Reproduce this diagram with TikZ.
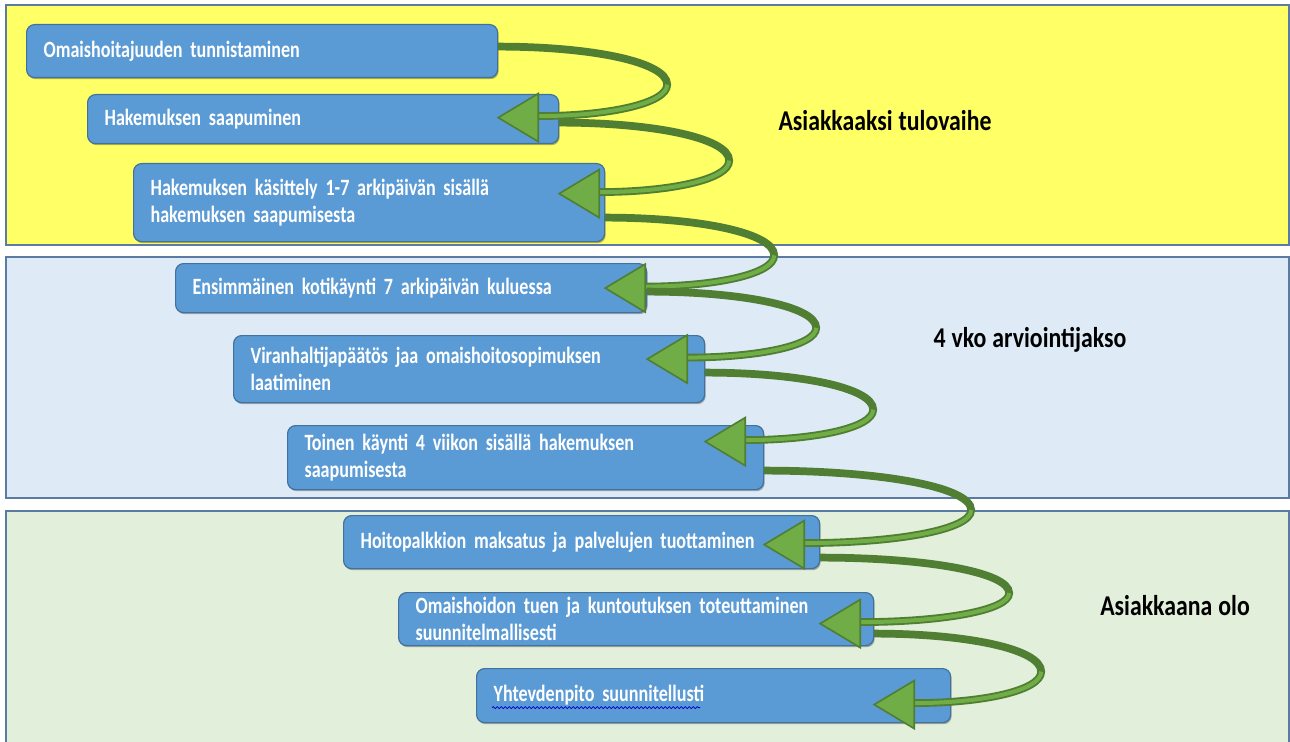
\documentclass[tikz,border=0pt]{standalone}
\usepackage{fontspec}
\setmainfont{Carlito}
\newfontfamily\boxfont[FakeStretch=0.775]{Carlito}
\newfontfamily\labfont[FakeStretch=0.83]{Carlito}
\newcommand\boxtextfont{\boxfont\bfseries\fontsize{17.5}{20.25}\selectfont\spaceskip 3pt plus 1pt minus 0.5pt\relax}
\newcommand\labtextfont{\labfont\bfseries\fontsize{21.5}{24}\selectfont\spaceskip 4.5pt plus 1pt minus 0.5pt\relax}
\usetikzlibrary{calc,decorations.pathmorphing,shadows}
\definecolor{yband}{HTML}{FFFF66}
\definecolor{bband}{HTML}{DEEBF7}
\definecolor{gband}{HTML}{E2EFDA}
\definecolor{bandline}{HTML}{5B7BA3}
\definecolor{boxfill}{HTML}{5B9BD5}
\definecolor{boxline}{HTML}{41719C}
\definecolor{glight}{HTML}{70AD47}
\definecolor{gdark}{HTML}{507E32}
\newcommand\garrow[5]{%
  \coordinate (gS) at ($(#1.east)+(0,#2)$);
  \coordinate (gY) at ($(#4.east)+(0,#5)$);
  \coordinate (gT) at (gS |- gY);
  \coordinate (gB) at ($($(gS)!0.5!(gT)$)+(#3,2.5)$);
  \coordinate (gE) at ($(gT)+(39,-1.5)$);
  \coordinate (gC1) at ($(gS)!0.55!(gS-|gB)$);
  \coordinate (gC2) at ($(gB)!0.6!(gB|-gS)$);
  \coordinate (gC3) at ($(gB)!0.6!(gB|-gE)$);
  \coordinate (gC4) at ($(gE)!0.55!(gE-|gB)$);
  \coordinate (gHt) at ($(gT)+(40,-24)$);
  \coordinate (gHb) at ($(gT)+(40,24)$);
  \draw[shaftdark] (gS) .. controls (gC1) and (gC2) .. (gB) .. controls (gC3) and (gC4) .. (gE);
  \draw[shaftlight] (gB) .. controls (gC3) and (gC4) .. (gE);
  \filldraw[headstyle] (gT) -- (gHt) -- (gHb) -- cycle;
}
\begin{document}
\begin{tikzpicture}[x=0.75pt,y=-0.75pt,
  band/.style={draw=bandline, line width=1pt},
  box/.style={rectangle, rounded corners=6pt, fill=boxfill, draw=boxline, line width=0.9pt,
    anchor=north west, inner xsep=12.75pt, inner ysep=2pt, align=left, text=white,
    font=\boxtextfont,
    drop shadow={shadow xshift=0.8pt, shadow yshift=-1.2pt, opacity=0.3, fill=black}},
  lab/.style={font=\labtextfont, text=black},
  shaftdark/.style={draw=gdark, line width=5.8pt, line cap=butt},
  shaftlight/.style={draw=glight, line width=3pt, line cap=butt},
  headstyle/.style={fill=glight, draw=gdark, line width=1.2pt, line join=miter}]
\useasboundingbox (0,0) rectangle (1290,742);
\fill[white] (0,0) rectangle (1290,742);
% bands
\path[band, fill=yband] (6,5) rectangle (1289,245);
\path[band, fill=bband] (6,257) rectangle (1289,498);
\path[band, fill=gband] (6,511) rectangle (1289,752);
% labels
\node[lab] (l1) at (885,121) {Asiakkaaksi tulovaihe};
\node[lab] (l2) at (1030,340) {4 vko arviointijakso};
\node[lab] (l3) at (1175,606) {Asiakkaana olo};
% boxes
\node[box, minimum width=353.25pt, text width=327.75pt, minimum height=39.75pt] (b1) at (26,24) {Omaishoitajuuden tunnistaminen};
\node[box, minimum width=353.25pt, text width=327.75pt, minimum height=36.75pt] (b2) at (87,94) {Hakemuksen saapuminen};
\node[box, minimum width=353.25pt, text width=327.75pt, minimum height=58.5pt] (b3) at (133,163) {Hakemuksen käsittely 1-7 arkipäivän sisällä\\hakemuksen saapumisesta};
\node[box, minimum width=353.25pt, text width=327.75pt, minimum height=36.75pt] (b4) at (175,263) {Ensimmäinen kotikäynti 7 arkipäivän kuluessa};
\node[box, minimum width=353.25pt, text width=327.75pt, minimum height=50.25pt] (b5) at (233,335) {Viranhaltijapäätös jaa omaishoitosopimuksen\\laatiminen};
\node[box, minimum width=357pt, text width=331.5pt, minimum height=48pt] (b6) at (287,425) {Toinen käynti 4 viikon sisällä hakemuksen\\saapumisesta};
\node[box, minimum width=357pt, text width=331.5pt, minimum height=39.75pt] (b7) at (343,515) {Hoitopalkkion maksatus ja palvelujen tuottaminen};
\node[box, minimum width=356.25pt, text width=330.75pt, minimum height=39.75pt] (b8) at (398,592) {Omaishoidon tuen ja kuntoutuksen toteuttaminen\\suunnitelmallisesti};
\node[box, minimum width=355.5pt, text width=330pt, minimum height=40.5pt] (b9) at (476,668) {Yhtevdenpito suunnitellusti};
\draw[blue!80!black, line width=0.6pt, decorate, decoration={snake, amplitude=0.7pt, segment length=3pt}]
  ($(b9.west)+(16,12)$) -- ++(208,0);
% arrows
\garrow{b1}{-4.5}{169}{b2}{-1.5}
\garrow{b2}{3.5}{170}{b3}{-9}
\garrow{b3}{15}{169}{b4}{0}
\garrow{b4}{3.5}{169}{b5}{-10}
\garrow{b5}{3.5}{168}{b6}{-16}
\garrow{b6}{13}{207}{b7}{2.5}
\garrow{b7}{15.5}{189}{b8}{4.5}
\garrow{b8}{14.5}{167}{b9}{9}
\end{tikzpicture}
\end{document}
